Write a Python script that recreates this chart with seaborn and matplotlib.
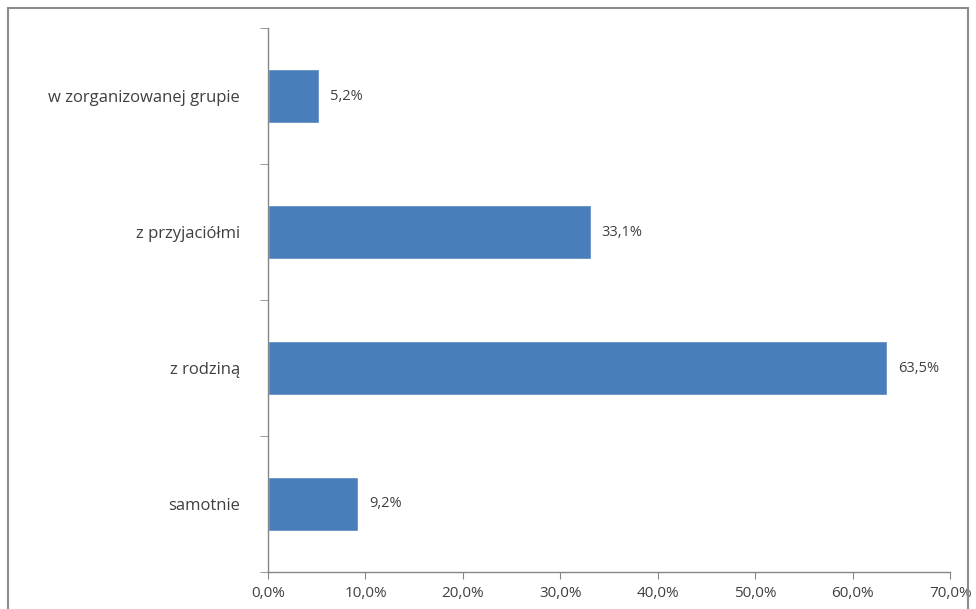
import pandas as pd
import seaborn as sns
import matplotlib.pyplot as plt
from matplotlib.patches import Rectangle

# data (top to bottom as in the chart)
categories = ["w zorganizowanej grupie", "z przyjaciółmi", "z rodziną", "samotnie"]
values = [5.2, 33.1, 63.5, 9.2]
xticks = [0, 10, 20, 30, 40, 50, 60, 70]

df = pd.DataFrame({"kategoria": categories, "procent": values})

sns.set_style("white")
plt.rcParams['font.family'] = ['Open Sans', 'DejaVu Sans']

fig = plt.figure(figsize=(9.76, 6.09), dpi=100)
ax = fig.add_axes([0.2746, 0.0608, 0.699, 0.893])

sns.barplot(data=df, y="kategoria", x="procent", order=categories,
            orient="h", color="#4A7EBB", saturation=1, width=0.4, ax=ax)

# value labels, comma as decimal separator
labels = [f"{v:.1f}%".replace(".", ",") for v in values]
ax.bar_label(ax.containers[0], labels=labels, padding=8, fontsize=10.5, color="#404040")

ax.set_xlim(0, 70)
ax.set_ylim(3.5, -0.5)
ax.set_xticks(xticks)
ax.set_xticklabels([f"{t:.1f}%".replace(".", ",") for t in xticks], fontsize=11, color="#404040")
ax.set_xlabel("")
ax.set_ylabel("")
ax.tick_params(axis="y", which="major", length=0, pad=20, labelsize=12, labelcolor="#404040")
ax.set_yticks([-0.5, 0.5, 1.5, 2.5, 3.5], minor=True)
ax.tick_params(axis="y", which="minor", left=True, length=6, color="#868686", direction="out")
ax.tick_params(axis="x", length=5, color="#868686", direction="out", pad=5, bottom=True)

for side in ["top", "right"]:
    ax.spines[side].set_visible(False)
for side in ["left", "bottom"]:
    ax.spines[side].set_color("#868686")
    ax.spines[side].set_linewidth(1)

# grey frame around the chart area
fig.add_artist(Rectangle((8 / 976, -0.01), 960 / 976, 1 - 8 / 609 + 0.01,
                         transform=fig.transFigure, fill=False,
                         edgecolor="#8c8c8c", linewidth=1.5))

fig.savefig("out.png", dpi=100)
